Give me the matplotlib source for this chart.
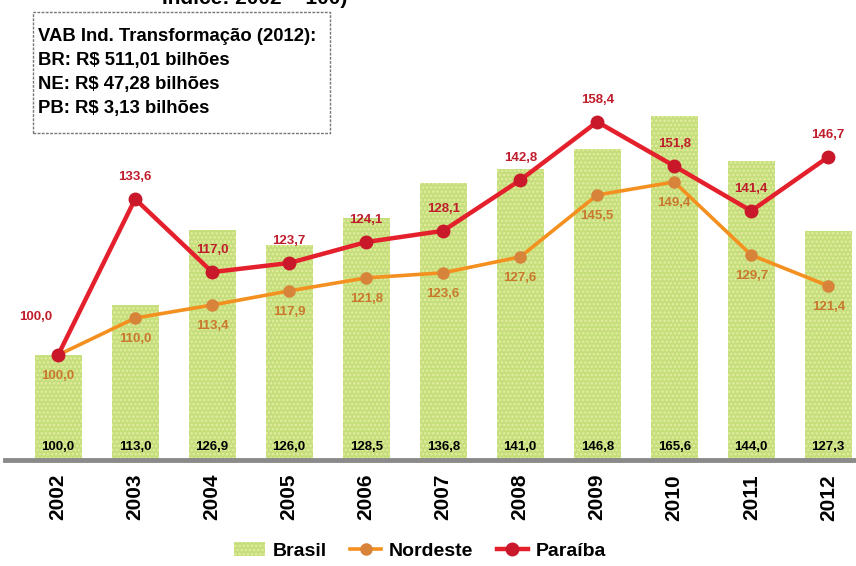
import numpy as np
import matplotlib
matplotlib.use("Agg")
import matplotlib.pyplot as plt
from matplotlib.patches import Patch, Rectangle
from matplotlib.lines import Line2D

plt.rcParams['font.family'] = ['Liberation Sans', 'DejaVu Sans']
plt.rcParams['hatch.linewidth'] = 1.2

# Dados
anos = ['2002', '2003', '2004', '2005', '2006', '2007', '2008', '2009', '2010', '2011', '2012']
# alturas (o grafico original nao segue os rotulos a risca)
brasil = [100.0, 113.8, 134.5, 130.4, 137.8, 147.5, 151.4, 156.9, 166.0, 153.6, 134.3]
nordeste = [100.0, 110.2, 113.8, 117.7, 121.3, 122.7, 127.1, 144.2, 147.8, 127.6, 119.1]
paraiba = [100.0, 143.1, 122.9, 125.4, 131.2, 134.3, 148.3, 164.4, 152.2, 139.8, 154.7]
# rotulos como aparecem na figura
rot_brasil = ['100,0', '113,0', '126,9', '126,0', '128,5', '136,8', '141,0', '146,8', '165,6', '144,0', '127,3']
rot_nordeste = ['100,0', '110,0', '113,4', '117,9', '121,8', '123,6', '127,6', '145,5', '149,4', '129,7', '121,4']
rot_paraiba = ['100,0', '133,6', '117,0', '123,7', '124,1', '128,1', '142,8', '158,4', '151,8', '141,4', '146,7']

verde = '#c5de7c'
laranja = '#f39020'
laranja_esc = '#d8833a'
vermelho = '#e4202c'
vermelho_esc = '#c8182a'
rot_laranja = '#c9782e'
rot_vermelho = '#c01d2c'

fig = plt.figure(figsize=(8.56, 5.66), dpi=100)
ax = fig.add_axes([5 / 856, (566 - 460) / 566, 851 / 856, 420 / 566])

x = np.arange(len(anos))
ax.bar(x, np.array(brasil) - 71, bottom=71, width=0.61, color=verde,
       edgecolor='#e4eca0', linewidth=0, hatch='....', zorder=1)

ax.plot(x, nordeste, color=laranja, linewidth=2.6, marker='o', markersize=8,
        markerfacecolor=laranja_esc, markeredgecolor=laranja_esc, zorder=3)
ax.plot(x, paraiba, color=vermelho, linewidth=3.2, marker='o', markersize=9,
        markerfacecolor=vermelho_esc, markeredgecolor=vermelho_esc, zorder=4)

for i in range(len(anos)):
    ax.text(x[i], 74.5, rot_brasil[i], ha='center', va='center', fontsize=9.5,
            fontweight='bold', color='black', zorder=5)
    ax.annotate(rot_nordeste[i], (x[i], nordeste[i]), xytext=(0, -21),
                textcoords='offset pixels', ha='center', va='center',
                fontsize=9.5, fontweight='bold', color=rot_laranja, zorder=5)
    if i == 0:
        desloc = (-22, 38)
    else:
        desloc = (0, 22)
    ax.annotate(rot_paraiba[i], (x[i], paraiba[i]), xytext=desloc,
                textcoords='offset pixels', ha='center', va='center',
                fontsize=9.5, fontweight='bold', color=rot_vermelho, zorder=5)

ax.set_xlim(-0.69, 10.36)
ax.set_ylim(71, 187)
ax.set_xticks(x)
ax.set_xticklabels(anos, rotation=90, fontsize=15, fontweight='bold')
ax.tick_params(axis='x', length=0, pad=10)
ax.set_yticks([])
for lado in ['top', 'right', 'left']:
    ax.spines[lado].set_visible(False)
ax.spines['bottom'].set_color('#8a8a8a')
ax.spines['bottom'].set_linewidth(3.5)

# caixa de texto
fig.patches.append(Rectangle((33 / 856, 1 - 133 / 566), 297 / 856, 121 / 566,
                             transform=fig.transFigure, facecolor='white',
                             edgecolor='#777777', linestyle=(0, (2, 1)),
                             linewidth=1, zorder=0))
caixa = ("VAB Ind. Transformação (2012):\n"
         "BR: R$ 511,01 bilhões\n"
         "NE: R$ 47,28 bilhões\n"
         "PB: R$ 3,13 bilhões")
fig.text(38 / 856, 1 - 28 / 566, caixa, ha='left', va='top', fontsize=13.3,
         fontweight='bold', linespacing=1.55)

# titulo cortado no topo
fig.text(255 / 856, 1 + 3 / 566, "Índice: 2002 = 100)", ha='center', va='center',
         fontsize=15, fontweight='bold')

itens = [Patch(facecolor=verde, edgecolor='#e4eca0', hatch='....', linewidth=0),
         Line2D([0], [0], color=laranja, linewidth=2.6, marker='o', markersize=8,
                markerfacecolor=laranja_esc, markeredgecolor=laranja_esc),
         Line2D([0], [0], color=vermelho, linewidth=3.2, marker='o', markersize=9,
                markerfacecolor=vermelho_esc, markeredgecolor=vermelho_esc)]
fig.legend(itens, ['Brasil', 'Nordeste', 'Paraíba'], loc='center',
           bbox_to_anchor=(420 / 856, 1 - 551 / 566), ncol=3, frameon=False,
           prop={'size': 14, 'weight': 'bold'}, handlelength=1.6,
           columnspacing=1.2, handletextpad=0.4)

fig.savefig('out.png', dpi=100)
